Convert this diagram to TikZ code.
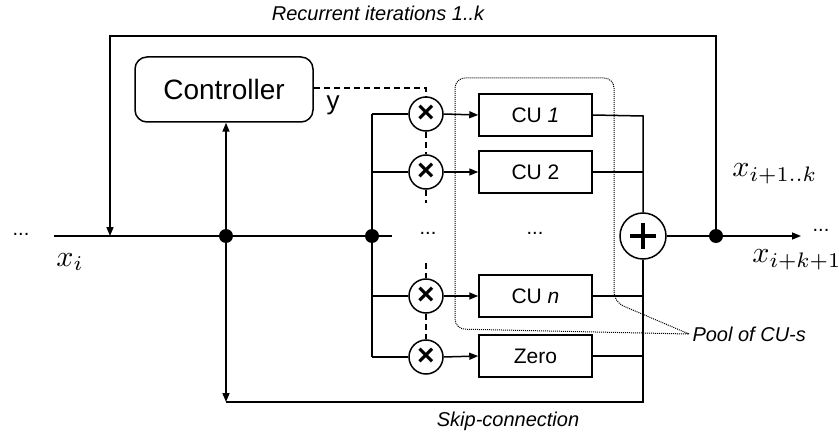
\documentclass[tikz,border=0pt]{standalone}
\usepackage{fontspec}
\setmainfont{Liberation Sans}
\usetikzlibrary{arrows.meta}
\begin{document}
\begin{tikzpicture}[x=1pt,y=-1pt,
 line/.style={line width=1.5pt},
 arr/.style={line width=1.5pt,-{Triangle[length=9pt,width=7pt]}},
 box/.style={draw,line width=1.5pt,minimum width=113pt,minimum height=42pt,inner sep=0pt,font=\fontsize{21}{24}\selectfont},
 mult/.style={draw,circle,line width=1.5pt,minimum size=34pt,inner sep=0pt,font=\fontsize{30}{30}\selectfont\bfseries},
 jdot/.style={circle,fill,minimum size=14pt,inner sep=0pt},
 ctl/.style={dash pattern=on 6pt off 4pt,line width=2.8pt},
 lbl/.style={font=\fontsize{20}{22}\selectfont\itshape},
 mth/.style={font=\fontsize{10}{12}\selectfont,scale=3},
 dots/.style={font=\fontsize{20}{22}\selectfont}
]
\useasboundingbox (0,0) rectangle (839,436);
% nodes
\node[draw,line width=1.5pt,rounded corners=12pt,minimum width=178pt,minimum height=65pt,font=\fontsize{28}{30}\selectfont] (ctrl) at (224,89.5) {Controller};
\node[mult] (m1) at (426,114) {×};
\node[mult] (m2) at (426,172) {×};
\node[mult] (mn) at (426,296) {×};
\node[mult] (mz) at (426,357) {×};
\node[box] (cu1) at (535.5,115) {CU \textit{1}};
\node[box] (cu2) at (535.5,172) {CU 2};
\node[box] (cun) at (535.5,296) {CU \textit{n}};
\node[box] (zero) at (535.5,356) {Zero};
\node[draw,circle,line width=1.5pt,minimum size=46pt,inner sep=0pt,
  path picture={\draw[line width=4.5pt] (path picture bounding box.center) ++(-13pt,0) -- ++(26pt,0);
                \draw[line width=4.5pt] (path picture bounding box.center) ++(0,-13pt) -- ++(0,26pt);}] (plus) at (643,236) {};
\node[jdot] (d1) at (226,236) {};
\node[jdot] (d2) at (372,236) {};
\node[jdot] (d3) at (716,236) {};
\coordinate (in) at (54,236);
\coordinate (busend) at (392,236);
\coordinate (fb) at (110,236);
\coordinate (tl) at (110,36);
\coordinate (tr) at (716,36);
\coordinate (out) at (801,236);
\coordinate (skl) at (226,402);
\coordinate (skr) at (643,402);
\coordinate (bt) at (372,114);
\coordinate (bb) at (372,357);
\coordinate (ctlc) at (426,88);
\coordinate (o1) at (643,116);
\coordinate (dm2) at (426,203);
\coordinate (dmn) at (426,263);
% labels
\node[lbl] (rec) at (378,13) {Recurrent iterations 1..k};
\node[lbl] (skip) at (508,421) {Skip-connection};
\node[lbl,anchor=west] (pool) at (689,334) {Pool of CU-s};
\node[font=\fontsize{26}{28}\selectfont] (y) at (333,105) {y};
\node[dots] (dl) at (21,234) {...};
\node[dots] (dm1) at (428,233) {...};
\node[dots] (dm2t) at (535,233) {...};
\node[dots] (dr) at (821,230) {...};
\node[mth] (xi) at (70,262) {$x_i$};
\node[mth] (xk) at (775,174) {$x_{i+1..k}$};
\node[mth] (xo) at (797,260) {$x_{i+k+1}$};
% connectors
\draw[line] (in) -- (d1) -- (d2) -- (busend);
\draw[arr] (d3) -- (tr) -- (tl) -- (fb);
\draw[arr] (d1) -- (d1 |- ctrl.south);
\draw[arr] (d1) -- (skl);
\draw[line] (skl) -- (skr) -- (plus.south);
\draw[line] (bt) -- (bb);
\draw[line] (bt) -- (m1.west);
\draw[line] (372,172) -- (m2.west);
\draw[line] (372,296) -- (mn.west);
\draw[line] (bb) -- (mz.west);
\draw[ctl] (ctrl.east |- ctlc) -- (ctlc) -- (m1.north);
\draw[ctl] (m1.south) -- (m2.north);
\draw[ctl] (m2.south) -- (dm2);
\draw[ctl] (dmn) -- (mn.north);
\draw[ctl] (mn.south) -- (mz.north);
\draw[arr] (m1.east) -- (cu1.west);
\draw[arr] (m2.east) -- (cu2.west);
\draw[arr] (mn.east) -- (cun.west);
\draw[arr] (mz.east) -- (zero.west);
\draw[line] (cu1.east) -- (o1) -- (plus.north);
\draw[line] (cu2.east) -- (cu2.east -| o1);
\draw[line] (cun.east) -- (cun.east -| o1);
\draw[line] (zero.east) -- (zero.east -| o1);
\draw[arr] (plus.east) -- (d3) -- (out);
\draw[line width=1pt,dash pattern=on 1pt off 1pt,rounded corners=10pt] (pool.west) -- (614,302) -- (614,78) -- (455,78) -- (455,329) -- (pool.west);
\end{tikzpicture}
\end{document}
